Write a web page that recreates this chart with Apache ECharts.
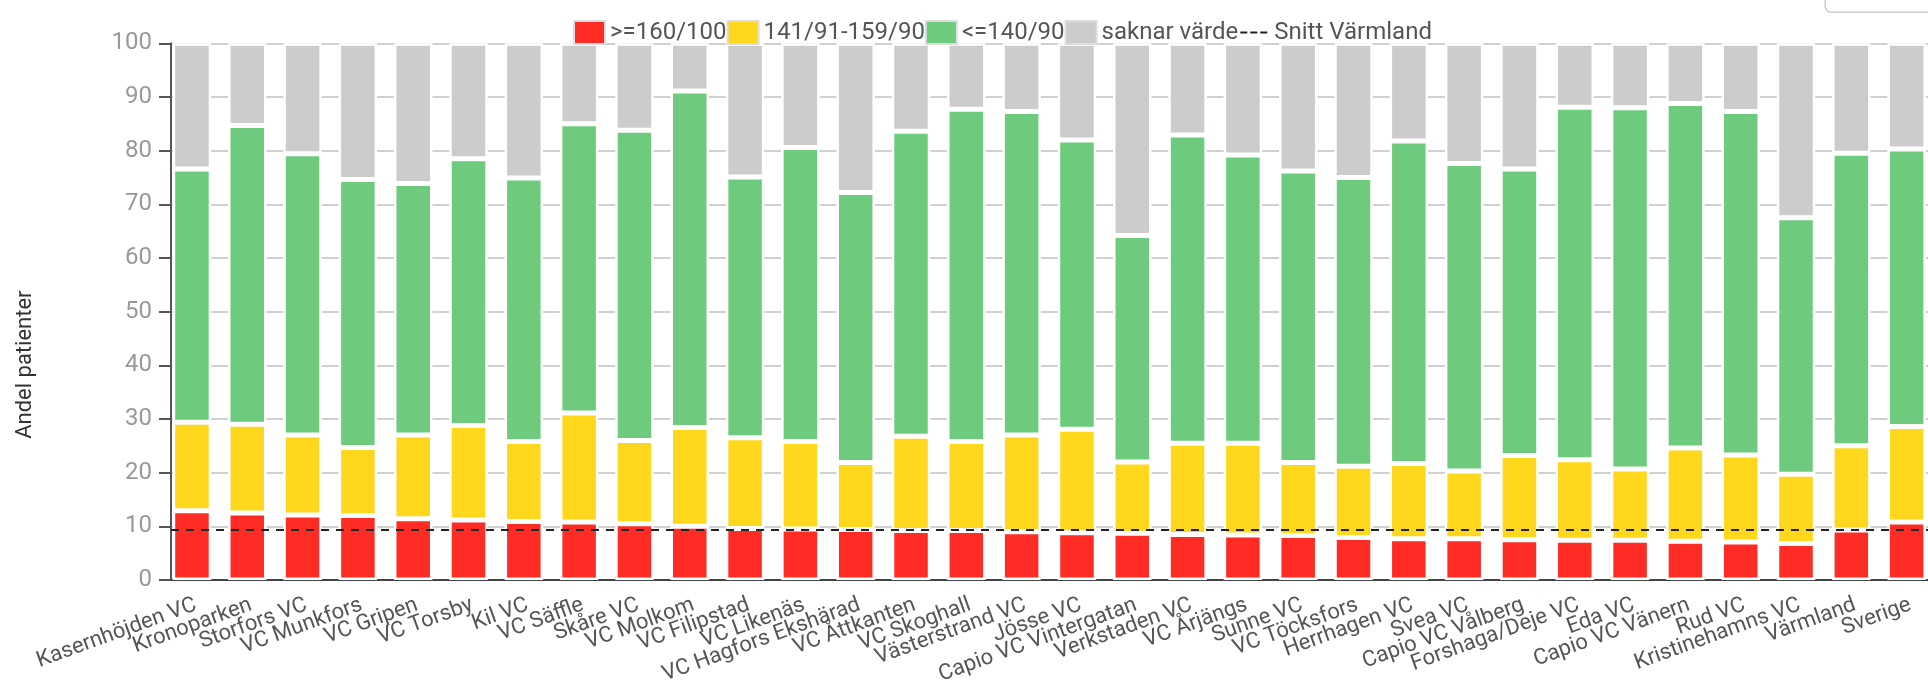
<!DOCTYPE html>
<html>
<head>
<meta charset="utf-8">
<script src="https://cdn.jsdelivr.net/npm/echarts@6/dist/echarts.min.js"></script>
<style>
  html, body { margin: 0; padding: 0; background: #fff; }
  #chart { width: 1928px; height: 682px; }
</style>
</head>
<body>
<div id="chart"></div>
<script>
const categories = [
  'Kasernhöjden VC', 'Kronoparken', 'Storfors VC', 'VC Munkfors', 'VC Gripen', 'VC Torsby',
  'Kil VC', 'VC Säffle', 'Skåre VC', 'VC Molkom', 'VC Filipstad', 'VC Likenäs',
  'VC Hagfors Ekshärad', 'VC Åttkanten', 'VC Skoghall', 'Västerstrand VC', 'Jösse VC',
  'Capio VC Vintergatan', 'Verkstaden VC', 'VC Årjängs', 'Sunne VC', 'VC Töcksfors',
  'Herrhagen VC', 'Svea VC', 'Capio VC Vålberg', 'Forshaga/Deje VC', 'Eda VC',
  'Capio VC Vänern', 'Rud VC', 'Kristinehamns VC', 'Värmland', 'Sverige'
];
// share of patients per blood pressure group (percent)
const redShare = [12.9, 12.5, 12.1, 12.0, 11.4, 11.2, 10.9, 10.8, 10.5, 10.0, 9.6, 9.5,
  9.4, 9.2, 9.2, 9.0, 8.8, 8.7, 8.5, 8.4, 8.3, 7.9, 7.7, 7.7, 7.5, 7.4, 7.4, 7.2, 7.1, 6.8, 9.3, 10.8];
const yellowShare = [16.5, 16.5, 14.9, 12.7, 15.6, 17.6, 14.9, 20.3, 15.5, 18.4, 16.9, 16.3,
  12.5, 17.6, 16.6, 18.0, 19.3, 13.3, 17.0, 17.1, 13.6, 13.3, 14.0, 12.6, 15.7, 15.0, 13.3, 17.4, 16.2, 12.9, 15.7, 17.8];
const greenShare = [47.2, 55.7, 52.4, 49.9, 46.9, 49.7, 49.1, 53.9, 57.8, 62.7, 48.6, 54.8,
  50.3, 56.8, 61.9, 60.3, 53.9, 42.2, 57.4, 53.7, 54.3, 53.8, 60.1, 57.3, 53.4, 65.7, 67.3, 64.2, 64.0, 47.8, 54.5, 51.7];
const missingShare = [23.4, 15.3, 20.6, 25.4, 26.1, 21.5, 25.1, 15.0, 16.2, 8.9, 24.9, 19.4,
  27.8, 16.4, 12.3, 12.7, 18.0, 35.8, 17.1, 20.8, 23.8, 25.0, 18.2, 22.4, 23.4, 11.9, 12.0, 11.2, 12.7, 32.5, 20.5, 19.7];
const snittVarmland = 9.3;
const seriesNames = ['>=160/100', '141/91-159/90', '<=140/90', 'saknar värde', 'Snitt Värmland'];
const colors = ['#ff2b24', '#ffd71d', '#6ecb7e', '#cccccc'];
const legendTextWidths = [120, 158, 106, 136];

const chart = echarts.init(document.getElementById('chart'), null, { renderer: 'canvas' });

const barBase = {
  type: 'bar', stack: 'total', barWidth: 38.5, xAxisIndex: 0, yAxisIndex: 0
};
const shares = [redShare, yellowShare, greenShare, missingShare];
const barSeries = shares.map((arr, i) => Object.assign({}, barBase, {
  name: seriesNames[i],
  data: arr,
  itemStyle: { color: colors[i], borderColor: '#ffffff', borderWidth: 2.5 }
}));

const dashIcon = 'path://M0,0L0,0M31,23L31,23M2,10.5h7v2h-7zM12,10.5h7v2h-7zM22,10.5h7v2h-7z';

const option = {
  animation: false,
  textStyle: { fontFamily: 'Roboto' },
  legend: {
    left: 568, top: 15,
    itemWidth: 31, itemHeight: 23, itemGap: 0,
    textStyle: { fontSize: 24, color: '#555', fontFamily: 'Roboto' },
    data: seriesNames.map((n, i) => i < 4
      ? { name: n, icon: 'rect',
          itemStyle: { color: colors[i], borderColor: '#dddddd', borderWidth: 2 },
          textStyle: { width: legendTextWidths[i], overflow: 'none' } }
      : { name: n, icon: dashIcon, itemStyle: { color: '#222', borderWidth: 0 } })
  },
  grid: [
    { left: 164.3, top: 43.3, width: 1770, height: 536.7, outerBoundsMode: 'none', containLabel: false },
    { left: 171, top: 43.3, right: 0, height: 536.7, outerBoundsMode: 'none', containLabel: false }
  ],
  xAxis: [
    {
      type: 'category', gridIndex: 0, data: categories,
      axisLine: { lineStyle: { color: '#444', width: 2 } },
      axisTick: { alignWithLabel: true, length: 10, lineStyle: { color: '#333', width: 2 } },
      axisLabel: { interval: 0, rotate: 20, fontSize: 22, color: '#555', margin: 14,
                   align: 'right', verticalAlign: 'top' }
    },
    { type: 'value', gridIndex: 1, min: 0, max: 1, show: false }
  ],
  yAxis: [
    { type: 'value', gridIndex: 0, min: 0, max: 100, show: false },
    {
      type: 'value', gridIndex: 1, min: 0, max: 100, interval: 10,
      axisLine: { show: true, lineStyle: { color: '#555', width: 2 } },
      axisTick: { show: true, length: 12, lineStyle: { color: '#555', width: 2 } },
      axisLabel: { fontSize: 24, color: '#999', margin: 19 },
      splitLine: { show: true, lineStyle: { color: '#d0d0d0', width: 2 } },
      name: 'Andel patienter', nameLocation: 'middle', nameGap: 135, nameRotate: 90,
      nameTextStyle: { fontSize: 22, color: '#333', padding: [0, 106, 0, 0] }
    }
  ],
  series: barSeries.concat([{
    name: seriesNames[4], type: 'line', xAxisIndex: 1, yAxisIndex: 1, data: [],
    symbol: 'none', z: 5,
    lineStyle: { color: '#222', width: 2, type: [7, 6] },
    itemStyle: { color: '#222' },
    markLine: {
      silent: true, symbol: ['none', 'none'], label: { show: false },
      lineStyle: { color: '#222', width: 2, type: [8, 7] },
      data: [{ yAxis: snittVarmland }]
    }
  }]),
  graphic: [{
    type: 'rect', right: -10, top: -20,
    shape: { width: 112, height: 31.5, r: 6 },
    style: { fill: '#fff', stroke: '#cccccc', lineWidth: 1.5 }
  }]
};
chart.setOption(option);
</script>
</body>
</html>
